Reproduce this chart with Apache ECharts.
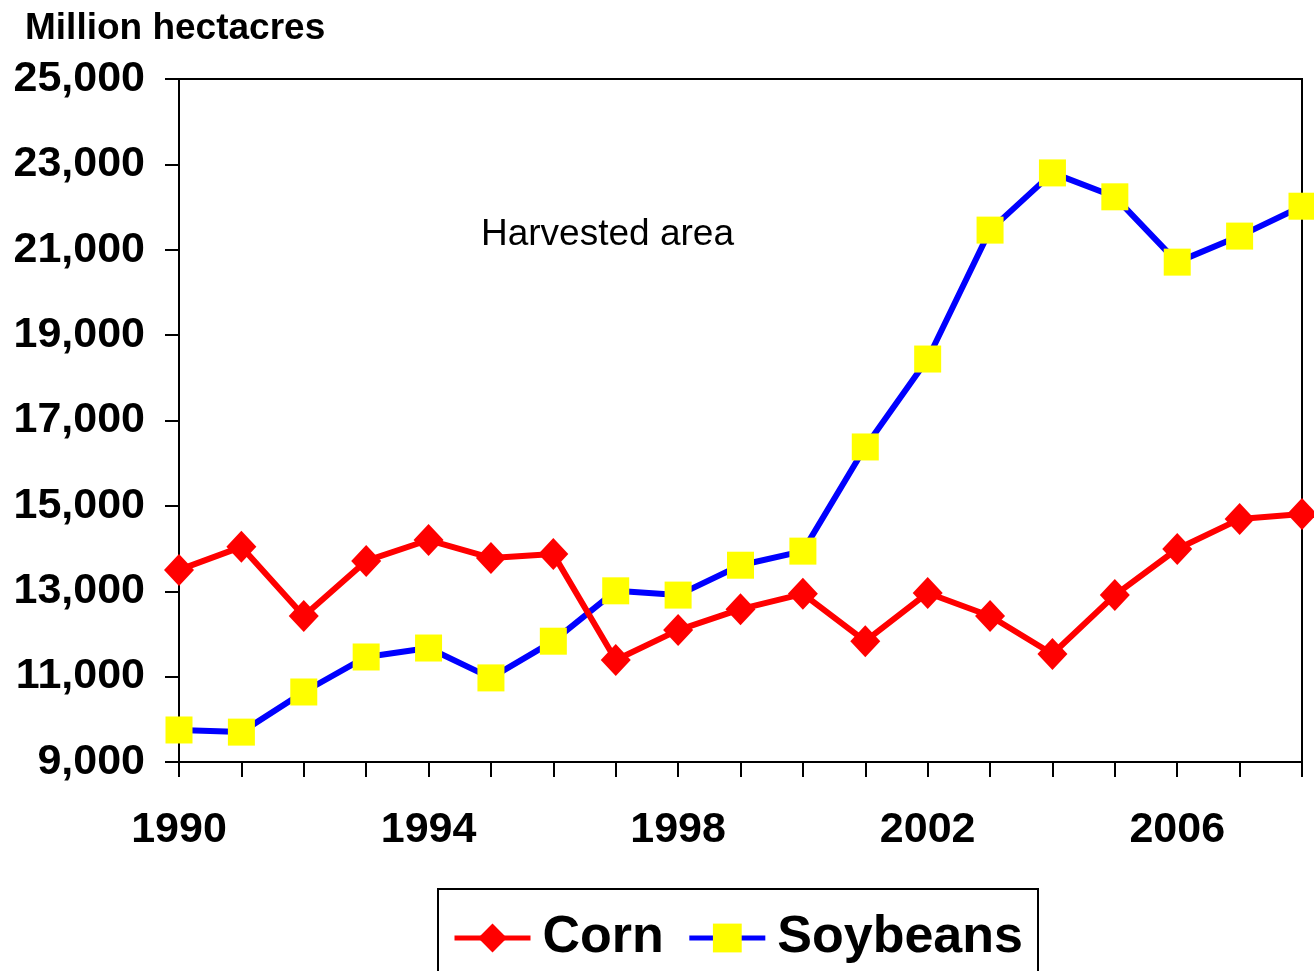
<!DOCTYPE html>
<html>
<head>
<meta charset="utf-8">
<script src="https://cdn.jsdelivr.net/npm/echarts@6/dist/echarts.min.js"></script>
<style>html,body{margin:0;padding:0;background:#fff;}#c{width:1314px;height:971px;}</style>
</head>
<body>
<div id="c"></div>
<script>
const years = ['1990','1991','1992','1993','1994','1995','1996','1997','1998','1999','2000','2001','2002','2003','2004','2005','2006','2007','2008'];
const corn = [13500,14040,12420,13710,14200,13780,13870,11390,12090,12580,12940,11830,12960,12420,11530,12910,13990,14690,14810];
const soybeans = [9750,9700,10640,11460,11670,10970,11830,13010,12910,13610,13940,16380,18440,21460,22800,22240,20710,21320,22020];
const yAxisTitle = 'Million hectacres';
const annotation = 'Harvested area';

const FONT = '"Liberation Sans", Arial, sans-serif';
const chart = echarts.init(document.getElementById('c'), null, {renderer: 'canvas'});
chart.setOption({
  animation: false,
  backgroundColor: '#fff',
  grid: {left: 179, right: 12, top: 79, bottom: 209, show: true, borderColor: '#000', borderWidth: 2, containLabel: false},
  xAxis: {
    type: 'category', data: years, boundaryGap: false,
    axisLine: {lineStyle: {color: '#000', width: 2}},
    axisTick: {show: true, interval: 0, length: 15, lineStyle: {color: '#000', width: 2}},
    axisLabel: {interval: 3, margin: 47, color: '#000', fontFamily: FONT, fontWeight: 'bold', fontSize: 43},
    splitLine: {show: false}
  },
  yAxis: {
    type: 'value', min: 9000, max: 25000, interval: 2000,
    axisLine: {show: true, lineStyle: {color: '#000', width: 2}},
    axisTick: {show: true, length: 14, lineStyle: {color: '#000', width: 2}},
    axisLabel: {margin: 34, color: '#000', fontFamily: FONT, fontWeight: 'bold', fontSize: 43,
      formatter: v => v.toLocaleString('en-US')},
    splitLine: {show: false}
  },
  legend: {
    left: 452, top: 912, padding: 0, itemGap: 23, itemWidth: 76, itemHeight: 36,
    lineStyle: {width: 5},
    textStyle: {fontFamily: FONT, fontWeight: 'bold', fontSize: 52, color: '#000', padding: [0, 0, 0, 7]},
    data: ['Corn', 'Soybeans']
  },
  graphic: [
    {type: 'text', left: 25, top: 10, style: {text: yAxisTitle, font: 'bold 37px ' + FONT, fill: '#000'}},
    {type: 'text', left: 481, top: 216, style: {text: annotation, font: '37px ' + FONT, fill: '#000'}},
    {type: 'rect', shape: {x: 438, y: 889, width: 600, height: 120}, style: {fill: 'none', stroke: '#000', lineWidth: 2}, z: 1}
  ],
  series: [
    {name: 'Soybeans', type: 'line', data: soybeans, z: 2,
      symbol: 'rect', symbolSize: 27,
      lineStyle: {color: '#0000FF', width: 6}, itemStyle: {color: '#FFFF00'}},
    {name: 'Corn', type: 'line', data: corn, z: 3,
      symbol: 'diamond', symbolSize: [30, 32],
      lineStyle: {color: '#FF0000', width: 6}, itemStyle: {color: '#FF0000'}}
  ]
});
</script>
</body>
</html>
